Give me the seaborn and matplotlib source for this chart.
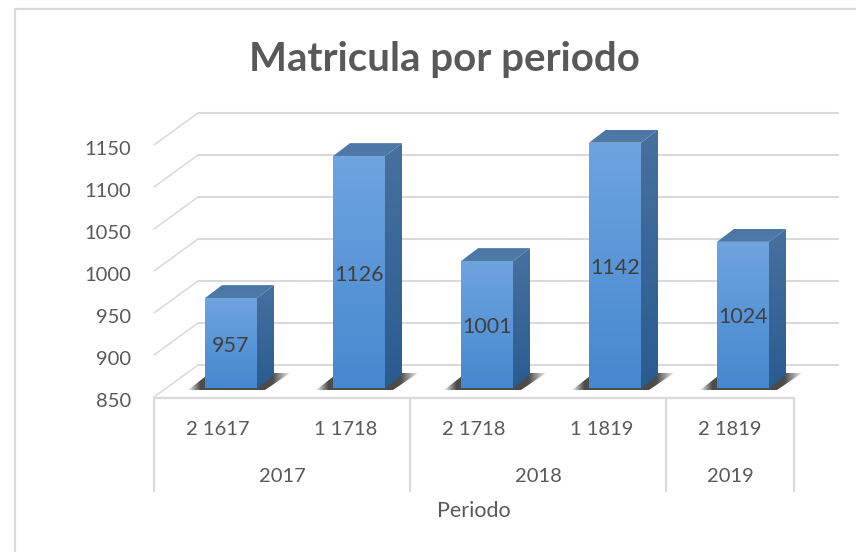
import matplotlib
matplotlib.use("Agg")
import matplotlib.pyplot as plt
import matplotlib.transforms as mtrans
from matplotlib.lines import Line2D
from matplotlib.patches import Polygon
import numpy as np
import pandas as pd
import seaborn as sns

periodos = ["2 1617", "1 1718", "2 1718", "1 1819", "2 1819"]
matricula = [957, 1126, 1001, 1142, 1024]
anios = ["2017", "2018", "2019"]
anios_n = [2, 2, 1]
yticks = [850, 900, 950, 1000, 1050, 1100, 1150]

W, H = 856, 552
GRID = "#d9d9d9"
TXT = "#595959"
FONT = ["Lato", "DejaVu Sans"]

sns.set_theme(style="white")
plt.rcParams["font.family"] = FONT

fig = plt.figure(figsize=(W / 100, H / 100), dpi=100, facecolor="white")
# los ejes coinciden con el plano frontal de las barras
ax = fig.add_axes([167 / W, (H - 388) / H, 640 / W, 252 / H])
df = pd.DataFrame({"periodo": periodos, "matricula": matricula})
sns.barplot(data=df, x="periodo", y="matricula", color="#5b9bd5", width=52 / 128,
            saturation=1, ax=ax)
ax.set_xlim(-0.5, 4.5)
ax.set_ylim(850, 1150)
ax.set_xlabel("")
ax.set_ylabel("")
ax.patch.set_alpha(0)
sns.despine(ax=ax, left=True, bottom=True)


def dx(px):
    return px / 128


def dy(px):
    return px * 300 / 252


def gradient(pts, top, bottom, zorder):
    """Rellena un poligono (coords de datos) con un degradado vertical."""
    pts = np.array(pts)
    t = np.linspace(0, 1, 64)[:, None]
    colors = np.array(top, float) * (1 - t) + np.array(bottom, float) * t
    im = ax.imshow(colors[:, None, :],
                   extent=[pts[:, 0].min(), pts[:, 0].max(), pts[:, 1].min(), pts[:, 1].max()],
                   origin="upper", aspect="auto", interpolation="bilinear", zorder=zorder)
    im.set_clip_path(Polygon(pts, transform=ax.transData, fc="none", ec="none"))
    im.set_clip_box(fig.bbox)


def rgb(r, g, b):
    return (r / 255, g / 255, b / 255, 1.0)


# paredes: lineas de cuadricula con su tramo oblicuo
for v in yticks:
    ax.plot([-0.5 + dx(-13), -0.5 + dx(31)], [v - dy(9), v + dy(23)],
            color=GRID, lw=1.1, clip_on=False, zorder=1)
    ax.plot([-0.5 + dx(31), 4.5 + dx(31)], [v + dy(23), v + dy(23)],
            color=GRID, lw=1.5, clip_on=False, zorder=1)

for p, val in zip(ax.patches, matricula):
    x0, x1 = p.get_x(), p.get_x() + p.get_width()
    p.set_visible(False)
    # sombra sobre el piso
    s = [(x0 + dx(-17), 850 - dy(2)), (x0 + dx(5), 850 + dy(15)), (x0 + dx(85), 850 + dy(15)),
         (x0 + dx(60), 850 - dy(2))]
    sx = np.array([q[0] for q in s])
    stops = [x0 + dx(-17), x0 + dx(-5), x0 + dx(68), x0 + dx(85)]
    alpha = np.interp(np.linspace(sx.min(), sx.max(), 128), stops, [0.1, 0.9, 0.9, 0.1])
    img = np.zeros((1, 128, 4))
    img[..., :3] = 0.22
    img[..., 3] = alpha
    im = ax.imshow(img, extent=[sx.min(), sx.max(), 850 - dy(2), 850 + dy(15)], aspect="auto",
                   interpolation="bilinear", zorder=2)
    im.set_clip_path(Polygon(s, transform=ax.transData, fc="none", ec="none"))
    im.set_clip_box(fig.bbox)
    # cara lateral, cara superior y frente
    gradient([(x1, 850), (x1 + dx(17), 850 + dy(13)), (x1 + dx(17), val + dy(13)), (x1, val)],
             rgb(72, 112, 158), rgb(42, 92, 145), 3)
    gradient([(x0, val), (x0 + dx(17), val + dy(13)), (x1 + dx(17), val + dy(13)), (x1, val)],
             rgb(75, 118, 165), rgb(80, 122, 168), 3)
    gradient([(x0, 850), (x0, val), (x1, val), (x1, 850)],
             rgb(110, 164, 224), rgb(70, 136, 206), 4)
    ax.text((x0 + x1) / 2, (850 + val) / 2 - dy(2.5), str(val), ha="center", va="center",
            fontsize=15.5, color="#404040", zorder=5)

ax.set_xlim(-0.5, 4.5)
ax.set_ylim(850, 1150)

# ticks con el desplazamiento del plano frontal
ax.set_yticks(yticks)
ax.tick_params(axis="y", length=0, pad=26, labelsize=14.5, labelcolor=TXT)
ax.tick_params(axis="x", length=0, pad=23.5, labelsize=14.5, labelcolor=TXT)
for lab in ax.get_yticklabels():
    lab.set_transform(lab.get_transform() + mtrans.ScaledTranslation(0, -12 / 100, fig.dpi_scale_trans))
for lab in ax.get_xticklabels():
    lab.set_transform(lab.get_transform() + mtrans.ScaledTranslation(-13 / 100, 0, fig.dpi_scale_trans))


def fig_line(xs, ys, lw=1.5):
    fig.add_artist(Line2D([x / W for x in xs], [1 - y / H for y in ys], color=GRID, lw=lw))


# marco (solo arriba e izquierda)
fig_line([15, 15, W], [H, 9, 9], lw=1.6)
# eje de categorias multinivel
fig_line([154, 794], [397.5, 397.5], lw=1.6)
start = 0
edges = [0]
for a, n in zip(anios, anios_n):
    center = start + n / 2 - 0.5
    ax.annotate(a, xy=(center, 850), xycoords="data", xytext=(-13 * 0.72, -89 * 0.72),
                textcoords="offset points", ha="center", va="center",
                fontsize=14.5, color=TXT, annotation_clip=False)
    start += n
    edges.append(start)
for e in edges:
    xp = 154 + e * 128
    fig_line([xp, xp], [397.5, 491])

fig.text(444 / W, 1 - 60 / H, "Matricula por periodo", ha="center", va="center",
         fontsize=29, fontweight="bold", color=TXT)
fig.text(474 / W, 1 - 511 / H, "Periodo", ha="center", va="center", fontsize=15.5, color=TXT)

fig.savefig("out.png", dpi=100, facecolor="white")
